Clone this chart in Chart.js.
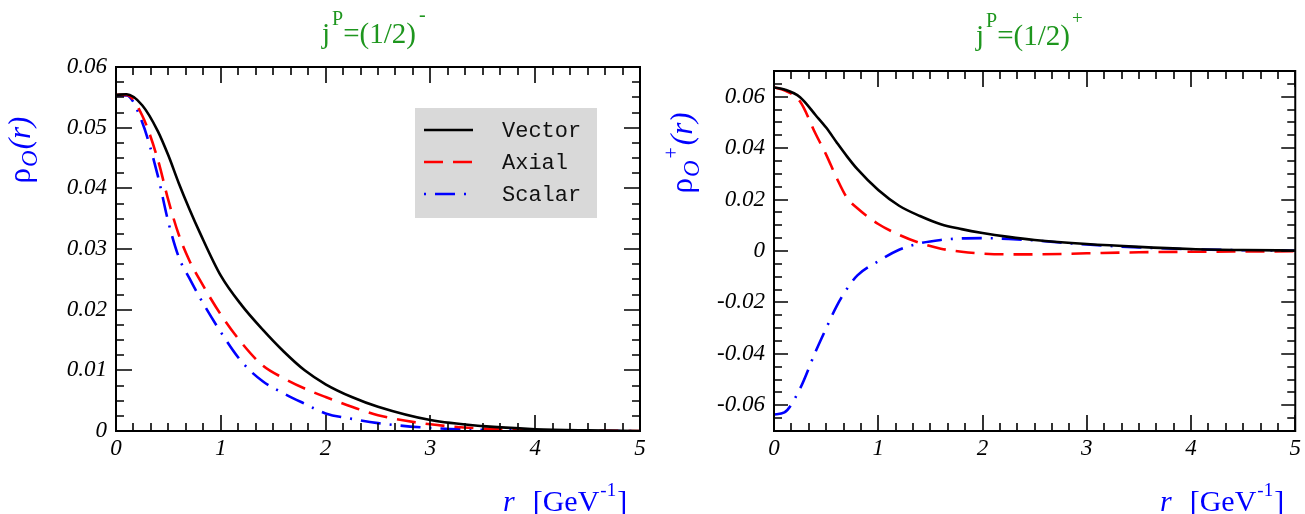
<!DOCTYPE html>
<html>
<head>
<meta charset="utf-8">
<script src="https://cdn.jsdelivr.net/npm/chart.js@4.4.0/dist/chart.umd.min.js"></script>
<style>
  html, body { margin: 0; padding: 0; background: #fff; }
  #wrap { position: relative; width: 1305px; height: 514px; }
  .box { position: absolute; top: 0; height: 514px; }
</style>
</head>
<body>
<div id="wrap">
  <div class="box" style="left:0; width:652px"><canvas id="cL"></canvas></div>
  <div class="box" style="left:652px; width:653px"><canvas id="cR"></canvas></div>
</div>
<script>
// r grid [GeV^-1]
const rGrid = [0, 0.1, 0.25, 0.4, 0.5, 0.6, 0.7, 0.8, 1.0, 1.2, 1.4, 1.6, 1.8, 2.0, 2.25, 2.5, 3.0, 3.5, 4.0, 4.5, 5.0];

// j^P = (1/2)^-
const vectorNeg = [0.0554, 0.0555, 0.0537, 0.0494, 0.0454, 0.0408, 0.0366, 0.0327, 0.0256, 0.0207, 0.0167, 0.0131, 0.0100, 0.0077, 0.0056, 0.0040, 0.0018, 0.0008, 0.0003, 0.0001, 0.0000];
const axialNeg  = [0.0554, 0.0554, 0.0520, 0.0447, 0.0380, 0.0323, 0.0281, 0.0249, 0.0192, 0.0145, 0.0108, 0.0087, 0.0070, 0.0056, 0.0040, 0.0026, 0.0011, 0.0004, 0.00015, 0.00005, 0.0000];
const scalarNeg = [0.0553, 0.0553, 0.0509, 0.0420, 0.0344, 0.0286, 0.0252, 0.0220, 0.0163, 0.0114, 0.0082, 0.0062, 0.0045, 0.0029, 0.0020, 0.0013, 0.0005, 0.0002, 0.0001, 0.0000, 0.0000];

// j^P = (1/2)^+
const vectorPos = [0.0636, 0.0628, 0.0598, 0.0528, 0.0480, 0.0423, 0.0368, 0.0318, 0.0237, 0.0176, 0.0136, 0.0104, 0.0085, 0.0070, 0.0055, 0.0043, 0.0027, 0.0016, 0.0008, 0.0004, 0.0002];
const axialPos  = [0.0636, 0.0625, 0.0581, 0.0455, 0.0375, 0.0285, 0.0207, 0.0166, 0.0105, 0.0063, 0.0031, 0.0009, -0.0003, -0.0010, -0.0013, -0.0013, -0.0009, -0.0005, -0.0003, -0.0002, -0.0001];
const scalarPos = [-0.0636, -0.0628, -0.0535, -0.0390, -0.0301, -0.0215, -0.0147, -0.0095, -0.0040, 0.0005, 0.0030, 0.0043, 0.0049, 0.0050, 0.0047, 0.0041, 0.0025, 0.0014, 0.0007, 0.0003, 0.0001];

const seriesNames = ['Vector', 'Axial', 'Scalar'];
const xTicks = [0, 1, 2, 3, 4, 5];
const yTicksNeg = [0, 0.01, 0.02, 0.03, 0.04, 0.05, 0.06];
const yTicksPos = [-0.06, -0.04, -0.02, 0, 0.02, 0.04, 0.06];

const SERIF = '"Liberation Serif", "Times New Roman", serif';
const MONO = '"Liberation Mono", "Courier New", monospace';
const GREEN = 'rgb(30,150,30)';
const BLUE = '#0000ff';

const styles = [
  { color: '#000000', dash: [] },
  { color: '#ff0000', dash: [19, 10] },
  { color: '#0000ff', dash: [20, 9, 2, 9] }
];

function richText(ctx, parts, x, y, align) {
  let w = 0;
  parts.forEach(p => { ctx.font = p.f; p.w = ctx.measureText(p.t).width; w += p.w + (p.gap || 0); });
  let cx = align === 'center' ? x - w / 2 : x;
  parts.forEach(p => {
    ctx.font = p.f;
    ctx.fillText(p.t, cx + (p.gap || 0), y + (p.dy || 0));
    cx += p.w + (p.gap || 0);
  });
}

const fmt = v => v === 0 ? '0' : String(Math.round(v * 100) / 100);

const decor = {
  id: 'decor',
  afterDatasetsDraw(chart, args, o) {
    const { ctx, chartArea: a, scales: { x, y } } = chart;
    ctx.save();
    ctx.strokeStyle = '#000';
    ctx.lineWidth = 1.6;
    ctx.beginPath();
    // x ticks (bottom + top)
    const xmin = x.min, xmax = x.max;
    for (let v = xmin, k = 0; v <= xmax + 1e-9; k++, v = xmin + k * o.xMinor) {
      const major = xTicks.some(t => Math.abs(t - v) < 1e-6);
      const len = major ? o.xMajorLen : o.minorLen;
      const px = Math.round(x.getPixelForValue(v));
      ctx.moveTo(px, a.bottom); ctx.lineTo(px, a.bottom - len);
      ctx.moveTo(px, a.top); ctx.lineTo(px, a.top + len);
    }
    // y ticks (left + right)
    const ymin = y.min, ymax = y.max;
    for (let v = ymin, k = 0; v <= ymax + 1e-9; k++, v = ymin + k * o.yMinor) {
      const major = o.yTicks.some(t => Math.abs(t - v) < 1e-7);
      const len = major ? o.yMajorLen : o.minorLen;
      const py = Math.round(y.getPixelForValue(v));
      ctx.moveTo(a.left, py); ctx.lineTo(a.left + len, py);
      ctx.moveTo(a.right, py); ctx.lineTo(a.right - len, py);
    }
    ctx.stroke();
    // frame
    ctx.lineWidth = 2;
    ctx.strokeRect(a.left, a.top, a.right - a.left, a.bottom - a.top);

    // legend
    if (o.legend) {
      const L = o.legend;
      ctx.fillStyle = '#d9d9d9';
      ctx.fillRect(L.x, L.y, L.w, L.h);
      chart.data.datasets.forEach((ds, i) => {
        const yy = L.rows[i];
        ctx.strokeStyle = ds.borderColor;
        ctx.lineWidth = 2.6;
        ctx.setLineDash(ds.borderDash || []);
        ctx.lineDashOffset = i === 2 ? 29 : 0;
        ctx.beginPath();
        ctx.moveTo(L.lx, yy); ctx.lineTo(L.lx + L.lw, yy);
        ctx.stroke();
        ctx.setLineDash([]);
        ctx.fillStyle = '#111';
        ctx.font = `22px ${MONO}`;
        ctx.textBaseline = 'middle';
        ctx.fillText(ds.label, L.tx, yy + 1);
      });
    }

    ctx.textBaseline = 'alphabetic';
    // title
    ctx.fillStyle = GREEN;
    richText(ctx, o.title, o.titleX, o.titleY, 'left');
    // y title (rotated)
    ctx.fillStyle = BLUE;
    ctx.save();
    ctx.translate(o.yTitleX, o.yTitleY);
    ctx.rotate(-Math.PI / 2);
    richText(ctx, o.yTitle, 0, 0, 'center');
    ctx.restore();
    // x title
    richText(ctx, [
      { t: 'r', f: `italic 30px ${SERIF}` },
      { t: '[GeV', f: `30px ${SERIF}`, gap: 18 },
      { t: '-1', f: `19px ${SERIF}`, dy: -15, gap: 1 },
      { t: ']', f: `30px ${SERIF}`, gap: 1 }
    ], o.xTitleX, 511, 'left');
    ctx.restore();
  }
};

function makeChart(id, vals, opt) {
  const datasets = vals.map((arr, i) => ({
    label: seriesNames[i],
    data: rGrid.map((r, j) => ({ x: r, y: arr[j] })),
    borderColor: styles[i].color,
    borderDash: styles[i].dash,
    borderWidth: 2.6,
    pointRadius: 0,
    fill: false,
    cubicInterpolationMode: 'monotone'
  }));
  const tickFont = { family: SERIF, size: 23, style: 'italic' };
  return new Chart(document.getElementById(id), {
    type: 'line',
    data: { datasets },
    plugins: [decor],
    options: {
      responsive: true,
      maintainAspectRatio: false,
      animation: false,
      layout: { padding: { left: 0, right: opt.padRight, top: opt.padTop, bottom: 0 } },
      plugins: {
        legend: { display: false },
        tooltip: { enabled: false },
        decor: opt.decor
      },
      scales: {
        x: {
          type: 'linear', min: 0, max: 5,
          afterBuildTicks: s => { s.ticks = xTicks.map(v => ({ value: v })); },
          afterFit: s => { s.height = 83; },
          grid: { display: false, drawTicks: false }, border: { display: false },
          ticks: { font: tickFont, color: '#000', padding: 4, maxRotation: 0, callback: v => String(v) }
        },
        y: {
          type: 'linear', min: opt.yMin, max: opt.yMax,
          afterBuildTicks: s => { s.ticks = opt.yTicks.map(v => ({ value: v })); },
          afterFit: s => { s.width = opt.yWidth; },
          grid: { display: false, drawTicks: false }, border: { display: false },
          ticks: { font: tickFont, color: '#000', padding: 9, callback: v => fmt(v) }
        }
      }
    }
  });
}

makeChart('cL', [vectorNeg, axialNeg, scalarNeg], {
  padRight: 12, padTop: 67, yWidth: 116, yMin: 0, yMax: 0.06, yTicks: yTicksNeg,
  decor: {
    xMinor: 1 / 6, yMinor: 0.0025, yTicks: yTicksNeg,
    xMajorLen: 16, yMajorLen: 16, minorLen: 8,
    title: [
      { t: 'j', f: `29px ${SERIF}` },
      { t: 'P', f: `20px ${SERIF}`, dy: -18, gap: 2 },
      { t: '=(1/2)', f: `29px ${SERIF}` },
      { t: '-', f: `20px ${SERIF}`, dy: -22, gap: 3 }
    ],
    titleX: 322, titleY: 43,
    yTitle: [
      { t: 'ρ', f: `31px ${SERIF}` },
      { t: 'O', f: `italic 23px ${SERIF}`, dy: 7, gap: 1 },
      { t: '(r)', f: `italic 31px ${SERIF}`, gap: 1 }
    ],
    yTitleX: 30, yTitleY: 150,
    xTitleX: 503,
    legend: { x: 415, y: 108, w: 182, h: 110, rows: [130, 162, 194], lx: 424, lw: 49, tx: 502 }
  }
});

makeChart('cR', [vectorPos, axialPos, scalarPos], {
  padRight: 8, padTop: 71, yWidth: 122, yMin: -0.07, yMax: 0.07, yTicks: yTicksPos,
  decor: {
    xMinor: 1 / 6, yMinor: 0.005, yTicks: yTicksPos,
    xMajorLen: 16, yMajorLen: 14, minorLen: 8,
    title: [
      { t: 'j', f: `29px ${SERIF}` },
      { t: 'P', f: `20px ${SERIF}`, dy: -18, gap: 2 },
      { t: '=(1/2)', f: `29px ${SERIF}` },
      { t: '+', f: `19px ${SERIF}`, dy: -21, gap: 2 }
    ],
    titleX: 976 - 652, titleY: 45,
    yTitle: [
      { t: 'ρ', f: `31px ${SERIF}` },
      { t: 'O', f: `italic 23px ${SERIF}`, dy: 7, gap: 1 },
      { t: '+', f: `20px ${SERIF}`, dy: -14, gap: 2 },
      { t: '(r)', f: `italic 31px ${SERIF}`, gap: 2 }
    ],
    yTitleX: 692 - 652, yTitleY: 153,
    xTitleX: 1160 - 652
  }
});
</script>
</body>
</html>
